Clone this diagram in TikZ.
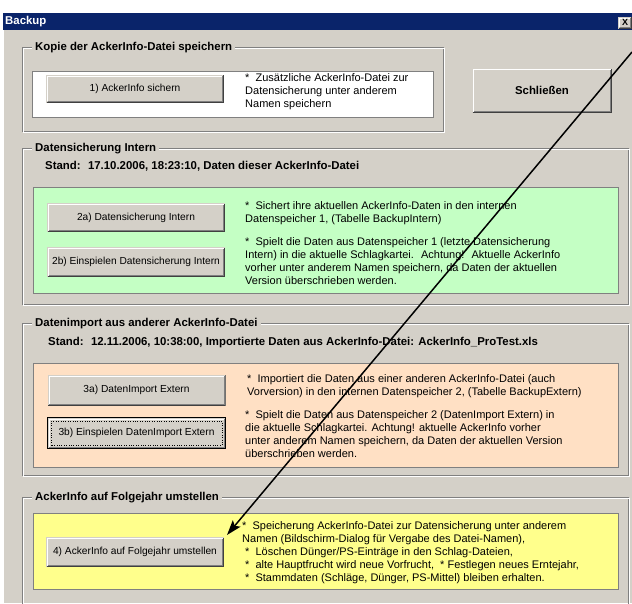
\documentclass[tikz,border=0pt]{standalone}
\usepackage{fontspec}
\setmainfont{Liberation Sans}
\usetikzlibrary{arrows.meta}

\definecolor{dlgface}{HTML}{D4D0C8}
\definecolor{titleblue}{HTML}{0A246A}
\definecolor{etchdark}{HTML}{808080}
\definecolor{btnshadow}{HTML}{404040}
\definecolor{greenbg}{HTML}{C4FFC4}
\definecolor{orangebg}{HTML}{FFE0C4}
\definecolor{yellowbg}{HTML}{FFFF8C}

\newcommand{\dlgfont}{\fontsize{11}{13}\selectfont}
\newcommand{\dlgboldfont}{\fontsize{11.4}{13}\selectfont\bfseries}
\newcommand{\btnfont}{\fontsize{10.2}{13}\selectfont}

\tikzset{
  dlgtext/.style={font=\dlgfont, inner sep=0pt, align=left, anchor=north west},
  framelabel/.style={font=\dlgboldfont, fill=dlgface, inner xsep=3pt, inner ysep=1pt, anchor=west},
  standlabel/.style={font=\dlgboldfont, inner sep=0pt, anchor=west},
  infobox/.style={draw=etchdark, line width=1pt},
  winbutton/.style={fill=dlgface, minimum width=178pt, minimum height=29pt, inner sep=0pt, font=\btnfont,
    path picture={
      \draw[white, line width=1pt] ([shift={(1.5pt,1.5pt)}]path picture bounding box.south west)
        |- ([shift={(-1.5pt,-1.5pt)}]path picture bounding box.north east);
      \draw[etchdark, line width=1pt] ([shift={(1.5pt,1.5pt)}]path picture bounding box.south west)
        -| ([shift={(-1.5pt,-1.5pt)}]path picture bounding box.north east);
      \draw[btnshadow, line width=1pt] ([shift={(0.5pt,0.5pt)}]path picture bounding box.south west)
        -| ([shift={(-0.5pt,-0.5pt)}]path picture bounding box.north east);
    }},
  focusbutton/.style={winbutton, draw=black, line width=1pt}
}

\begin{document}
\begin{tikzpicture}[x=1pt, y=-1pt]
  \useasboundingbox (0,0) rectangle (632,603);
  \fill[white] (0,0) rectangle (632,603);

  % dialog window
  \fill[dlgface] (3,13) rectangle (632,603);
  \draw[white] (3.5,30) -- (3.5,603);
  \fill[titleblue] (3,13) rectangle (632,30);
  \node[font=\dlgboldfont, text=white, anchor=west, inner sep=0pt] (title) at (5,21.5) {Backup};
  \node[winbutton, minimum width=14pt, minimum height=12pt, font=\fontsize{9}{9}\selectfont\bfseries] (closebtn) at (625,22.5) {X};

  % group frames
  \foreach \xa/\ya/\xb/\yb in {22.5/47.5/443.5/131.5, 22.5/148.5/628.5/304.5, 22.5/323.5/628.5/475.5, 22.5/497.5/628.5/610} {
    \draw[etchdark] (\xa,\ya) rectangle (\xb,\yb);
    \draw[white] (\xa+1,\ya+1) rectangle (\xb+1,\yb+1);
  }
  \node[framelabel] (lblkopie) at (32,47.5) {Kopie der AckerInfo-Datei speichern};
  \node[framelabel] (lblintern) at (32,148.5) {Datensicherung Intern};
  \node[framelabel] (lblimport) at (32,323.5) {Datenimport aus anderer AckerInfo-Datei};
  \node[framelabel] (lblfolge) at (32,497.5) {AckerInfo auf Folgejahr umstellen};

  \node[standlabel] (standintern) at (45,166) {Stand:~ 17.10.2006, 18:23:10, Daten dieser AckerInfo-Datei};
  \node[standlabel] (standimport) at (48,343) {Stand:~ 12.11.2006, 10:38:00, Importierte Daten aus AckerInfo-Datei: AckerInfo\_ProTest.xls};

  % coloured panels
  \filldraw[infobox, fill=white] (32.5,71.5) rectangle (433.5,117.5);
  \filldraw[infobox, fill=greenbg] (33.5,187.5) rectangle (618.5,293.5);
  \filldraw[infobox, fill=orangebg] (33.5,363.5) rectangle (618.5,467.5);
  \filldraw[infobox, fill=yellowbg] (33.5,513.5) rectangle (618.5,589.5);

  % buttons
  \node[winbutton, minimum height=28pt] (btnsichern) at (135,88.5) {1) AckerInfo sichern};
  \node[winbutton, minimum width=140pt, minimum height=45pt, font=\dlgboldfont] (btnclose) at (542,90.5) {Schließen};
  \node[winbutton] (btnintern) at (136,217.5) {2a) Datensicherung Intern};
  \node[winbutton, minimum height=30pt] (btneinintern) at (136,262) {2b) Einspielen Datensicherung Intern};
  \node[winbutton, minimum height=31pt] (btnextern) at (136.5,390) {3a) DatenImport Extern};
  \node[focusbutton, minimum height=31pt] (btneinextern) at (136.5,433) {3b) Einspielen DatenImport Extern};
  \draw[dotted] ([shift={(4pt,4pt)}]btneinextern.south west) rectangle ([shift={(-4pt,-4pt)}]btneinextern.north east);
  \node[winbutton, minimum height=30pt] (btnfolge) at (135,552) {4) AckerInfo auf Folgejahr umstellen};

  % descriptions
  \node[dlgtext] (txtsichern) at (245,73.5) {*~ Zusätzliche AckerInfo-Datei zur\\Datensicherung unter anderem\\Namen speichern};
  \node[dlgtext] (txtintern) at (245,201.5) {*~ Sichert ihre aktuellen AckerInfo-Daten in den internen\\Datenspeicher 1, (Tabelle BackupIntern)};
  \node[dlgtext] (txteinintern) at (245,237.5) {*~ Spielt die Daten aus Datenspeicher 1 (letzte Datensicherung\\Intern) in die aktuelle Schlagkartei.~ Achtung!~ Aktuelle AckerInfo\\vorher unter anderem Namen speichern, da Daten der aktuellen\\Version überschrieben werden.};
  \node[dlgtext] (txtextern) at (247,374.5) {*~ Importiert die Daten aus einer anderen AckerInfo-Datei (auch\\Vorversion) in den internen Datenspeicher 2, (Tabelle BackupExtern)};
  \node[dlgtext] (txteinextern) at (245,410.5) {*~ Spielt die Daten aus Datenspeicher 2 (DatenImport Extern) in\\die aktuelle Schlagkartei. Achtung! aktuelle AckerInfo vorher\\unter anderem Namen speichern, da Daten der aktuellen Version\\überschrieben werden.};
  \node[dlgtext] (txtfolge) at (242,521.5) {*~ Speicherung AckerInfo-Datei zur Datensicherung unter anderem\\Namen (Bildschirm-Dialog für Vergabe des Datei-Namen),\\\hspace*{3pt}*~ Löschen Dünger/PS-Einträge in den Schlag-Dateien,\\\hspace*{3pt}*~ alte Hauptfrucht wird neue Vorfrucht,~ * Festlegen neues Erntejahr,\\\hspace*{3pt}*~ Stammdaten (Schläge, Dünger, PS-Mittel) bleiben erhalten.};

  % pointer arrow
  \coordinate (arrowstart) at (632,52);
  \coordinate (arrowtip) at (227,535);
  \draw[line width=1.5pt, -{Stealth[length=15pt, width=10pt, inset=3pt]}] (arrowstart) -- (arrowtip);
\end{tikzpicture}
\end{document}
